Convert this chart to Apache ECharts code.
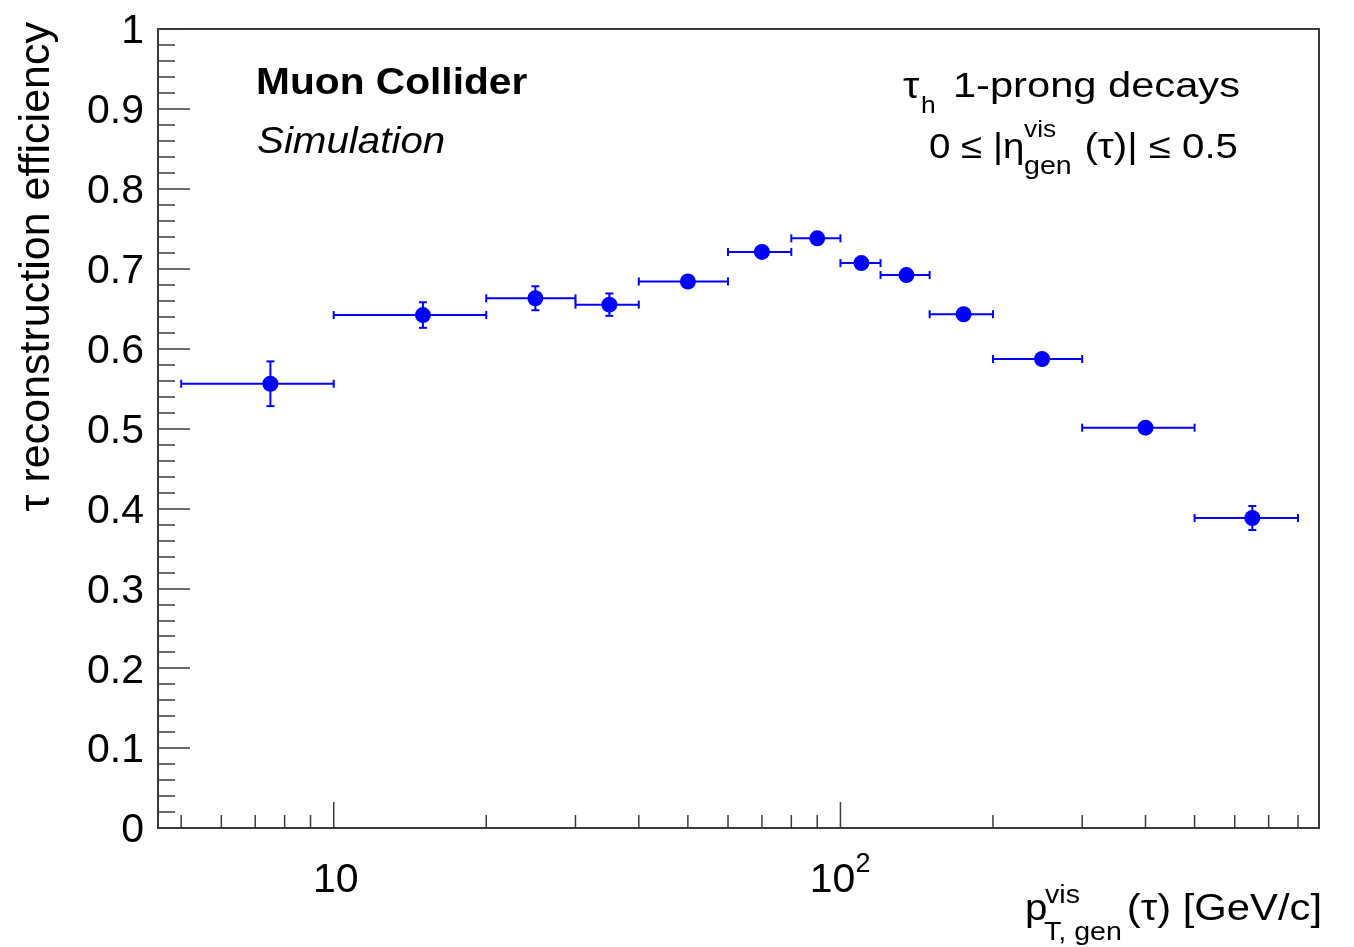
<!DOCTYPE html>
<html><head><meta charset="utf-8">
<script src="https://cdn.jsdelivr.net/npm/echarts@6/dist/echarts.min.js"></script>
<style>html,body{margin:0;padding:0;background:#fff}#c{width:1354px;height:947px}</style>
</head><body><div id="c"></div>
<script>
// ---- data ----
const binLow    = [5, 10, 20, 30, 40, 60, 80, 100, 120, 150, 200, 300, 500];
const binHigh   = [10, 20, 30, 40, 60, 80, 100, 120, 150, 200, 300, 500, 800];
const binCenter = [7.5, 15, 25, 35, 50, 70, 90, 110, 135, 175, 250, 400, 650];
const efficiency = [0.556, 0.642, 0.663, 0.655, 0.684, 0.721, 0.738, 0.707, 0.692, 0.643, 0.587, 0.501, 0.388];
const effError   = [0.028, 0.016, 0.015, 0.014, 0.006, 0.005, 0.005, 0.006, 0.006, 0.006, 0.007, 0.008, 0.015];
const xTickValues = [5, 6, 7, 8, 9, 10, 20, 30, 40, 50, 60, 70, 80, 90, 100, 200, 300, 400, 500, 600, 700, 800];
const xMajorTicks = [10, 100];
const xMin = 4.5, xMax = 880;

const FONT = "'Liberation Sans', Arial, Helvetica, sans-serif";
const AXC = '#3a3a3a';
const BLUE = '#0000ff';

const chart = echarts.init(document.getElementById('c'), null, {renderer: 'canvas'});

const pointData = binCenter.map((x, i) => [x, efficiency[i]]);
const errData = binCenter.map((x, i) => [x, efficiency[i], binLow[i], binHigh[i], effError[i]]);
const tickData = xTickValues.map(v => [v, 0]);
const labelData = xMajorTicks.map(v => [v, 0]);

function txt(x, y, text, size, opts) {
  opts = opts || {};
  return {
    type: 'text', x: x, y: y, scaleX: opts.sx || 1, rotation: opts.rot || 0,
    style: {
      text: text, fill: '#000',
      font: (opts.style || 'normal') + ' ' + (opts.weight || 'normal') + ' ' + size + 'px ' + FONT,
      align: opts.align || 'left', verticalAlign: 'middle',
      textAlign: opts.align || 'left', textVerticalAlign: 'middle'
    }
  };
}

const option = {
  backgroundColor: '#fff',
  animation: false,
  grid: {left: 158, right: 35, top: 29, bottom: 119, show: true, borderColor: AXC, borderWidth: 2, backgroundColor: 'transparent'},
  xAxis: {
    type: 'log', logBase: 10, min: xMin, max: xMax,
    axisLine: {show: true, onZero: false, lineStyle: {color: AXC, width: 2}},
    axisTick: {show: false}, axisLabel: {show: false}, splitLine: {show: false}, minorTick: {show: false}
  },
  yAxis: {
    type: 'value', min: 0, max: 1, interval: 0.1,
    axisLine: {show: true, lineStyle: {color: AXC, width: 2}},
    axisTick: {show: true, inside: true, length: 32, lineStyle: {color: AXC, width: 1.5}},
    minorTick: {show: true, splitNumber: 5, length: 17, lineStyle: {color: AXC, width: 1.5}},
    axisLabel: {fontSize: 41, fontFamily: FONT, color: '#000', margin: 14, verticalAlign: 'top', lineHeight: 6},
    splitLine: {show: false}
  },
  series: [
    {
      type: 'custom', name: 'xticks', silent: true, z: 1,
      data: tickData,
      renderItem: function (params, api) {
        const v = api.value(0);
        const p = api.coord([v, 0]);
        const len = xMajorTicks.indexOf(v) >= 0 ? 26 : 13;
        return {type: 'line', shape: {x1: p[0], y1: p[1], x2: p[0], y2: p[1] - len},
                style: {stroke: AXC, lineWidth: 1.5}};
      }
    },
    {
      type: 'custom', name: 'xlabels', silent: true, z: 1,
      data: labelData,
      renderItem: function (params, api) {
        const v = api.value(0);
        const p = api.coord([v, 0]);
        const font = '41px ' + FONT;
        if (v === 10) {
          return {type: 'text', style: {text: '10', x: p[0] + 2, y: p[1] + 53, font: font, fill: '#000',
                  align: 'center', verticalAlign: 'middle', textAlign: 'center', textVerticalAlign: 'middle'}};
        }
        return {type: 'group', children: [
          {type: 'text', style: {text: '10', x: p[0] + 15, y: p[1] + 53, font: font, fill: '#000',
            align: 'right', verticalAlign: 'middle', textAlign: 'right', textVerticalAlign: 'middle'}},
          {type: 'text', style: {text: '2', x: p[0] + 15, y: p[1] + 37, font: '27px ' + FONT, fill: '#000',
            align: 'left', verticalAlign: 'middle', textAlign: 'left', textVerticalAlign: 'middle'}}
        ]};
      }
    },
    {
      type: 'custom', name: 'errors', silent: true, z: 2,
      data: errData,
      renderItem: function (params, api) {
        const xc = api.value(0), y = api.value(1), lo = api.value(2), hi = api.value(3), e = api.value(4);
        const c = api.coord([xc, y]);
        const l = api.coord([lo, y]);
        const h = api.coord([hi, y]);
        const t = api.coord([xc, y + e]);
        const b = api.coord([xc, y - e]);
        const st = {stroke: BLUE, lineWidth: 2};
        const cap = 4;
        const ch = [
          {type: 'line', shape: {x1: l[0], y1: c[1], x2: h[0], y2: c[1]}, style: st},
          {type: 'line', shape: {x1: l[0], y1: c[1] - cap, x2: l[0], y2: c[1] + cap}, style: st},
          {type: 'line', shape: {x1: h[0], y1: c[1] - cap, x2: h[0], y2: c[1] + cap}, style: st}
        ];
        if (b[1] - c[1] > 8) {
          ch.push({type: 'line', shape: {x1: c[0], y1: t[1], x2: c[0], y2: b[1]}, style: st});
          ch.push({type: 'line', shape: {x1: c[0] - cap, y1: t[1], x2: c[0] + cap, y2: t[1]}, style: st});
          ch.push({type: 'line', shape: {x1: c[0] - cap, y1: b[1], x2: c[0] + cap, y2: b[1]}, style: st});
        }
        return {type: 'group', children: ch};
      }
    },
    {
      type: 'scatter', name: 'efficiency', z: 3,
      symbol: 'circle', symbolSize: 16,
      itemStyle: {color: BLUE, opacity: 1},
      emphasis: {disabled: true},
      data: pointData
    }
  ],
  graphic: [
    txt(256, 84, 'Muon Collider', 37, {weight: 'bold', sx: 1.1}),
    txt(257, 143, 'Simulation', 36, {style: 'italic', sx: 1.12}),
    txt(903, 88, 'τ', 36, {sx: 1.15}),
    txt(921, 106, 'h', 24, {sx: 1.1}),
    txt(1240, 87, '1-prong decays', 35, {align: 'right', sx: 1.19}),
    txt(929, 148, '0 ≤ |η', 35, {sx: 1.1}),
    txt(1024, 130, 'vis', 24, {sx: 1.1}),
    txt(1024, 167, 'gen', 26, {sx: 1.1}),
    txt(1238, 148, '(τ)| ≤ 0.5', 35, {align: 'right', sx: 1.15}),
    txt(1025, 910, 'p', 36, {sx: 1.12}),
    txt(1045, 896, 'vis', 26, {sx: 1.1}),
    txt(1044, 933, 'T, gen', 26, {sx: 1.1}),
    txt(1322, 910, '(τ) [GeV/c]', 36, {align: 'right', sx: 1.16}),
    txt(37, 22, 'τ reconstruction efficiency', 43, {align: 'right', rot: Math.PI / 2})
  ]
};
chart.setOption(option);
</script>
</body></html>
